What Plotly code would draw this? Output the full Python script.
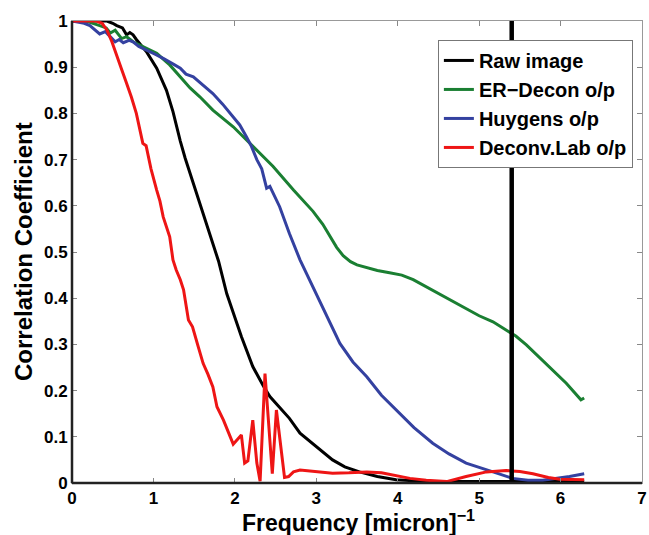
import plotly.graph_objects as go

raw_x = [0, 0.43, 0.5, 0.55, 0.62, 0.67, 0.71, 0.75, 0.79, 0.92, 1.04, 1.08, 1.16, 1.24, 1.28, 1.33, 1.39,
         1.45, 1.57, 1.73, 1.80, 1.90, 2.08, 2.22, 2.30, 2.35, 2.43, 2.55, 2.67, 2.80, 2.96, 3.10, 3.20,
         3.35, 3.53, 3.75, 3.98, 4.3, 5.0, 6.29]
raw_y = [1, 1, 0.995, 0.99, 0.985, 0.97, 0.975, 0.97, 0.96, 0.932, 0.898, 0.883, 0.85, 0.804, 0.775, 0.74, 0.703,
         0.67, 0.606, 0.515, 0.48, 0.41, 0.317, 0.252, 0.225, 0.21, 0.187, 0.163, 0.14, 0.108, 0.085, 0.065, 0.05,
         0.035, 0.024, 0.014, 0.007, 0.004, 0.003, 0.004]

er_x = [0, 0.2, 0.34, 0.42, 0.47, 0.53, 0.61, 0.67, 0.75, 0.83, 1.04, 1.2, 1.33, 1.45, 1.57, 1.73,
        1.98, 2.22, 2.47, 2.72, 2.96, 3.08, 3.17, 3.25, 3.33, 3.42, 3.5, 3.6, 3.75, 3.9, 4.05, 4.19,
        4.4, 4.6, 4.76, 5.0, 5.17, 5.37, 5.45, 5.58, 5.82, 6.07, 6.25, 6.29]
er_y = [1, 0.998, 0.99, 0.985, 0.974, 0.98, 0.962, 0.966, 0.955, 0.948, 0.93, 0.905, 0.879, 0.855, 0.836, 0.807,
        0.771, 0.728, 0.685, 0.634, 0.588, 0.56, 0.535, 0.51, 0.492, 0.479, 0.472, 0.467, 0.46, 0.455, 0.45, 0.44,
        0.42, 0.40, 0.385, 0.362, 0.349, 0.327, 0.318, 0.299, 0.259, 0.216, 0.18, 0.184]

hu_x = [0, 0.15, 0.22, 0.28, 0.34, 0.41, 0.47, 0.53, 0.58, 0.63, 0.7, 0.75, 0.82, 0.92, 1.02, 1.12,
        1.2, 1.26, 1.33, 1.4, 1.49, 1.6, 1.73, 1.85, 1.98, 2.06, 2.14, 2.2, 2.27, 2.33, 2.39, 2.43,
        2.55, 2.67, 2.80, 2.84, 3.04, 3.17, 3.29, 3.45, 3.62, 3.8, 4.02, 4.2, 4.43, 4.63, 4.84, 5.0,
        5.17, 5.41, 5.6, 5.78, 5.95, 6.11, 6.29]
hu_y = [1, 0.995, 0.99, 0.98, 0.972, 0.977, 0.965, 0.955, 0.96, 0.953, 0.958, 0.955, 0.945, 0.937, 0.928, 0.919,
        0.91, 0.905, 0.898, 0.885, 0.879, 0.862, 0.843, 0.82, 0.793, 0.775, 0.75, 0.73, 0.70, 0.68, 0.638, 0.642,
        0.598, 0.54, 0.483, 0.468, 0.396, 0.345, 0.302, 0.262, 0.23, 0.19, 0.151, 0.12, 0.086, 0.063, 0.043, 0.033,
        0.024, 0.01, 0.006, 0.006, 0.01, 0.014, 0.02]

dl_x = [0, 0.3, 0.37, 0.43, 0.49, 0.55, 0.61, 0.67, 0.73, 0.79, 0.84, 0.87, 0.91, 0.97, 1.04, 1.08,
        1.12, 1.20, 1.24, 1.28, 1.33, 1.37, 1.43, 1.48, 1.55, 1.61, 1.67, 1.73, 1.78, 1.86, 1.92, 1.98,
        2.08, 2.12, 2.16, 2.22, 2.27, 2.31, 2.37, 2.46, 2.51, 2.61, 2.66, 2.72, 2.80, 3.0, 3.2, 3.4,
        3.62, 3.8, 3.94, 4.15, 4.35, 4.6, 4.84, 5.09, 5.33, 5.5, 5.66, 5.85, 5.99, 6.29]
dl_y = [1, 1.0, 0.995, 0.98, 0.955, 0.923, 0.895, 0.865, 0.835, 0.80, 0.76, 0.735, 0.73, 0.68, 0.634, 0.61,
        0.576, 0.533, 0.483, 0.461, 0.44, 0.418, 0.353, 0.338, 0.295, 0.259, 0.235, 0.208, 0.165, 0.136, 0.11, 0.084,
        0.104, 0.043, 0.048, 0.136, 0.043, 0.004, 0.237, 0.02, 0.158, 0.012, 0.014, 0.024, 0.028, 0.024, 0.021, 0.022,
        0.024, 0.022, 0.017, 0.01, 0.006, 0.003, 0.014, 0.024, 0.027, 0.025, 0.02, 0.012, 0.008, 0.007]

cutoff_x = 5.4

x_ticks = [0, 1, 2, 3, 4, 5, 6, 7]
y_ticks = [0, 0.1, 0.2, 0.3, 0.4, 0.5, 0.6, 0.7, 0.8, 0.9, 1]
y_tick_text = ["0", "0.1", "0.2", "0.3", "0.4", "0.5", "0.6", "0.7", "0.8", "0.9", "1"]

x_title = "Frequency [micron]<sup>\u22121</sup>"
y_title = "Correlation Coefficient"

series = [
    ("Raw image", raw_x, raw_y, "#000000"),
    ("ER\u2212Decon o/p", er_x, er_y, "#1a7f32"),
    ("Huygens o/p", hu_x, hu_y, "#3441a0"),
    ("Deconv.Lab o/p", dl_x, dl_y, "#ee1515"),
]

fig = go.Figure()
for name, xs, ys, col in series:
    fig.add_trace(go.Scatter(x=xs, y=ys, mode="lines", name=name,
                             line=dict(color=col, width=3)))

fig.add_trace(go.Scatter(x=[cutoff_x, cutoff_x], y=[0, 1], mode="lines",
                         line=dict(color="#000000", width=4.5), showlegend=False))

font = "Liberation Sans, Arial, sans-serif"
fig.update_layout(
    width=649, height=535,
    margin=dict(l=72, r=7, t=21, b=52, autoexpand=False),
    paper_bgcolor="white", plot_bgcolor="white",
    font=dict(family=font, color="black"),
    showlegend=True,
    legend=dict(x=0.984, y=0.959, xanchor="right", yanchor="top",
                bgcolor="white", bordercolor="#777777", borderwidth=1,
                font=dict(size=20, family=font, weight="bold"),
                tracegroupgap=0, itemwidth=30),
    xaxis=dict(range=[0, 7], tickvals=x_ticks, ticks="inside", ticklen=5,
               tickcolor="#888888", showline=True, linecolor="#999999", linewidth=1,
               mirror="ticks", showgrid=False, zeroline=False, automargin=False,
               tickfont=dict(size=17, family=font, weight="bold")),
    yaxis=dict(range=[0, 1], tickvals=y_ticks, ticktext=y_tick_text, ticks="inside", ticklen=5,
               tickcolor="#888888", showline=True, linecolor="#999999", linewidth=1,
               mirror="ticks", showgrid=False, zeroline=False, automargin=False,
               tickfont=dict(size=17, family=font, weight="bold")),
    annotations=[
        dict(text=x_title, xref="paper", yref="paper", x=0.503, y=0, xanchor="center",
             yanchor="middle", yshift=-38, showarrow=False,
             font=dict(size=23, family=font, weight="bold", color="black")),
        dict(text=y_title, xref="paper", yref="paper", x=0, y=0.5, xanchor="center",
             yanchor="middle", xshift=-49, textangle=-90, showarrow=False,
             font=dict(size=24, family=font, weight="bold", color="black")),
    ],
    shapes=[
        dict(type="line", xref="paper", yref="paper", x0=0, x1=0, y0=0, y1=1,
             line=dict(color="#222222", width=2.5), layer="above"),
        dict(type="line", xref="paper", yref="paper", x0=0, x1=1, y0=0, y1=0,
             line=dict(color="#222222", width=2.5), layer="above"),
    ],
)

fig.write_html("out.html",
               config={"displayModeBar": False},
               post_script="document.body.style.margin='0';document.body.style.overflow='hidden';")
